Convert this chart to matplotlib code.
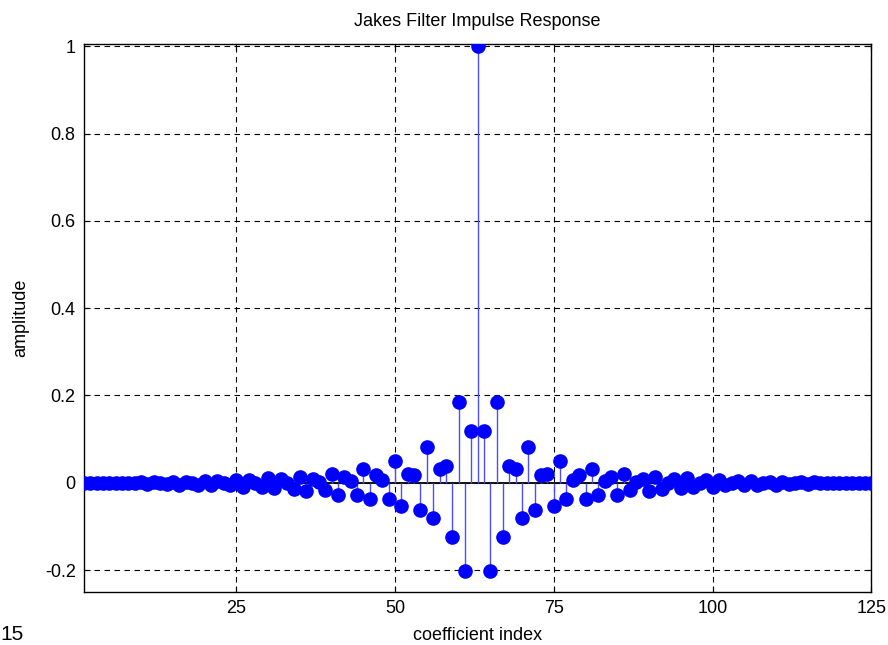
import numpy as np
import matplotlib
matplotlib.use('Agg')
import matplotlib.pyplot as plt

plt.rcParams['font.family'] = ['Liberation Sans', 'DejaVu Sans']

# coefficient index 1..125
idx = list(range(1, 126))

# left half (index 1..62)
left = [0, 0, 0, 0, 0, 0, 0,
        0, -0.001, 0.001, -0.002, 0.001,
        0, -0.002, 0.003, -0.004, 0.002,
        0, -0.004, 0.005, -0.006, 0.004,
        0, -0.006, 0.007, -0.009, 0.006,
        0, -0.009, 0.010, -0.013, 0.009,
        0, -0.014, 0.014, -0.019, 0.009,
        0.001, -0.016, 0.021, -0.027, 0.014,
        0.005, -0.027, 0.032, -0.037, 0.018,
        0.007, -0.037, 0.049, -0.052, 0.021,
        0.017, -0.062, 0.081, -0.080, 0.032,
        0.038, -0.123, 0.184, -0.202, 0.118]
center = [1.0]
# right half (index 64..125)
right = [0.118, -0.202, 0.184, -0.123, 0.038,
         0.032, -0.080, 0.081, -0.062, 0.017,
         0.021, -0.052, 0.049, -0.037, 0.007,
         0.018, -0.037, 0.032, -0.027, 0.005,
         0.014, -0.027, 0.021, -0.016, 0.001,
         0.009, -0.019, 0.014, -0.014, 0,
         0.009, -0.013, 0.010, -0.009, 0,
         0.006, -0.009, 0.007, -0.006, 0,
         0.004, -0.006, 0.005, -0.004, 0,
         0.002, -0.004, 0.003, -0.002, 0,
         0.001, -0.002, 0.001, -0.001, 0,
         0, 0, 0, 0, 0, 0, 0]
h = left + center + right

xticks = [25, 50, 75, 100, 125]
yticks = [-0.2, 0, 0.2, 0.4, 0.6, 0.8, 1]
ytick_labels = ['-0.2', '0', '0.2', '0.4', '0.6', '0.8', '1']

fig = plt.figure(figsize=(8.88, 6.45), dpi=100)
ax = fig.add_axes([0.0946, 0.0822, 0.8865, 0.8496])

ax.axhline(0, color='black', lw=1.3, zorder=2)
markerline, stemlines, baseline = ax.stem(idx, h, basefmt=' ')
plt.setp(stemlines, color=(0.3, 0.3, 1.0), linewidth=1.0, zorder=3)
plt.setp(markerline, color='blue', marker='o', markersize=9.5, zorder=4)

ax.set_xlim(1, 125)
ax.set_ylim(-0.25, 1.005)
ax.set_xticks(xticks)
ax.set_yticks(yticks)
ax.set_yticklabels(ytick_labels)
ax.tick_params(direction='in', length=4, labelsize=13, top=True, right=True, pad=6)
ax.grid(True, color='black', linestyle=(0, (5, 4)), linewidth=0.8)
ax.set_axisbelow(True)
for s in ax.spines.values():
    s.set_linewidth(1.0)

ax.set_title('Jakes Filter Impulse Response', fontsize=13, pad=13)
ax.set_xlabel('coefficient index', fontsize=13, labelpad=7)
ax.set_ylabel('amplitude', fontsize=13, labelpad=11)

# stray label at the bottom-left corner
fig.text(0.0, 0.001, '15', fontsize=15, ha='left', va='bottom')

fig.savefig('out.png', dpi=100)
